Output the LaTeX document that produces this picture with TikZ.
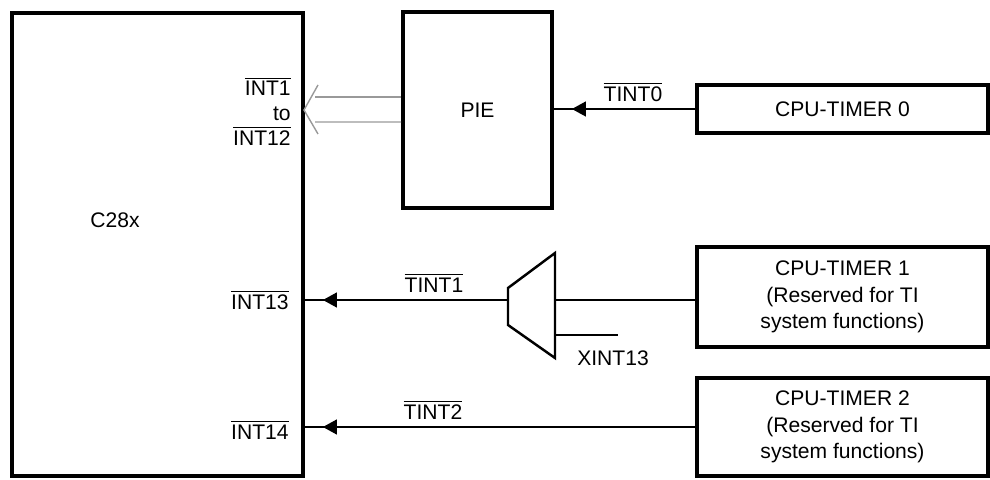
\documentclass[tikz,border=0pt]{standalone}
\usepackage{fontspec}
\setmainfont{Liberation Sans}
\usepackage{amsmath}
\usetikzlibrary{arrows.meta,positioning,calc,decorations.markings}
\newcommand{\sigbar}[1]{$\overline{\mbox{#1}}$}

\begin{document}
\begin{tikzpicture}[
  font=\fontsize{12}{15}\selectfont,
  blk/.style={draw, line width=2.2pt, align=center, inner sep=0pt},
  sig/.style={line width=0.8pt},
  tipmark/.style={sig, decoration={markings,
      mark=at position -0.36cm with {\arrow{Triangle[length=0.28cm, width=0.3cm]}}},
      postaction={decorate}},
  hollow/.style={line width=0.8pt, draw=black!40}
]
  \useasboundingbox (0,0) rectangle (19.8,9.58);

  \node[blk, minimum width=5.82cm, minimum height=9.26cm] (c28x) at (3.15,4.69) {};
  \node[blk, minimum width=2.98cm, minimum height=3.92cm] (pie)  at (9.55,7.38) {PIE};
  \node[blk, minimum width=5.82cm, minimum height=0.96cm] (cpu0) at (16.85,7.40) {CPU-TIMER 0};
  \node[blk, minimum width=5.82cm, minimum height=2.0cm]  (cpu1) at (16.85,3.64)
    {CPU-TIMER 1\\(Reserved for TI\\system functions)};
  \node[blk, minimum width=5.82cm, minimum height=1.96cm] (cpu2) at (16.85,1.04)
    {CPU-TIMER 2\\(Reserved for TI\\system functions)};

  \node (c28xlbl) at (2.3,5.18) {C28x};
  \node[anchor=east, align=right, inner sep=0pt, font=\fontsize{12}{14.2}\selectfont]
    (int1) at (5.82,7.36) {\sigbar{INT1}\\to\\\sigbar{INT12}};
  \node[anchor=east, inner sep=0pt] (int13) at (5.78,3.58) {\sigbar{INT13}};
  \node[anchor=east, inner sep=0pt] (int14) at (5.78,0.98) {\sigbar{INT14}};

  % multiplexer
  \coordinate (muxout) at (10.16,3.58);
  \coordinate (muxin)  at (11.10,3.58);
  \coordinate (muxx)   at (11.10,2.88);
  \coordinate (xend)   at (12.36,2.88);
  \draw[line width=1.4pt] (10.16,3.82) -- (11.10,4.52) -- (11.10,2.42) -- (10.16,3.08) -- cycle;
  \node (xint13) at (12.26,2.42) {XINT13};

  \draw[tipmark] (cpu0.west) -- (cpu0.west -| pie.east);
  \node (tint0) at (12.66,7.74) {\sigbar{TINT0}};

  \draw[sig] (muxin -| cpu1.west) -- (muxin);
  \draw[sig] (muxx) -- (xend);
  \draw[tipmark] (muxout) -- (muxout -| c28x.east);
  \node (tint1) at (8.68,3.92) {\sigbar{TINT1}};

  \draw[tipmark] (cpu2.west) -- (cpu2.west -| c28x.east);
  \node (tint2) at (8.66,1.38) {\sigbar{TINT2}};

  \draw[hollow] ($(pie.west)+(0,0.26)$) -- (6.30,7.64);
  \draw[hollow] ($(pie.west)+(0,-0.24)$) -- (6.30,7.14);
  \draw[hollow] (6.36,7.88) -- (6.08,7.38) -- (6.36,6.90);
\end{tikzpicture}
\end{document}
